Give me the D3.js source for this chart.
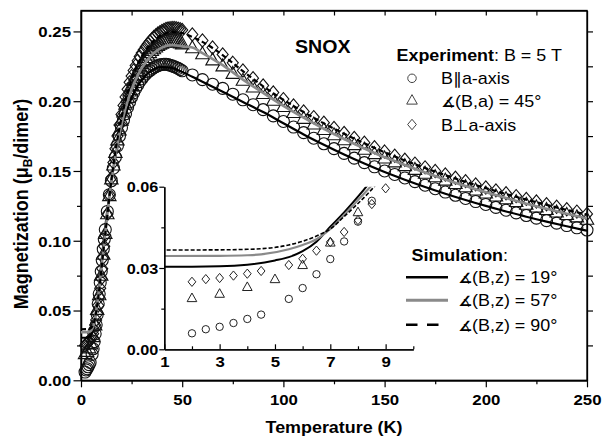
<!DOCTYPE html>
<html>
<head>
<meta charset="utf-8">
<script src="https://cdn.jsdelivr.net/npm/d3@7"></script>
<style>
  body { margin: 0; background: #fff; }
  svg { display: block; font-family: "Liberation Sans", Arial, "DejaVu Sans", sans-serif; }
</style>
</head>
<body>
<svg id="chart" width="602" height="437"></svg>
<script>
// ---- data: [T (K), M (muB/dimer)] ----
var paraA = [ // B || a-axis (circles)
  [2,0.0059],[2.5,0.0074],[3,0.0083],[3.5,0.0097],[4,0.0112],[4.5,0.0128],[5.5,0.0186],[6,0.0226],
  [6.5,0.0277],[7,0.0333],[7.5,0.0398],[8,0.0471],[8.5,0.0548],[9,0.062],[9.5,0.070],[10,0.078],
  [10.5,0.086],[11,0.094],[11.5,0.101],[12,0.108],[13,0.121],[14,0.133],[15,0.143],[16,0.152],
  [17,0.160],[18,0.168],[19,0.175],[20,0.181],[21,0.1865],[22,0.191],[23,0.1955],[24,0.1995],
  [25,0.203],[26,0.206],[27,0.209],[28,0.2115],[29,0.214],[30,0.216],[31,0.218],[32,0.2195],
  [33,0.221],[34,0.222],[35,0.223],[36,0.224],[37,0.2248],[38,0.2255],[39,0.226],[40,0.2263],
  [41,0.2265],[42,0.2265],[43,0.2262],[44,0.2258],[45,0.2253],[46,0.2248],[47,0.2242],[48,0.2235],
  [49,0.2227],[50,0.2218],[55,0.2188],[60,0.2155],[65,0.2122],[70,0.2092],[75,0.205],[80,0.201],
  [85,0.1975],[90,0.194],[95,0.1895],[100,0.1855],[105,0.1815],[110,0.1775],[115,0.1735],[120,0.1695],
  [125,0.166],[130,0.1626],[135,0.1592],[140,0.156],[145,0.153],[150,0.15],[155,0.1475],[160,0.145],
  [165,0.1424],[170,0.1398],[175,0.1373],[180,0.1349],[185,0.1326],[190,0.1303],[195,0.1281],[200,0.126],
  [205,0.1239],[210,0.1219],[215,0.12],[220,0.1181],[225,0.1162],[230,0.1144],[235,0.1126],[240,0.1109],
  [245,0.1093],[250,0.1077]
];
var tilt45 = [ // angle(B,a) = 45 deg (triangles)
  [2,0.0188],[3,0.0204],[4,0.0229],[5,0.0258],[6,0.031],[7,0.0393],[8,0.0505],[9,0.061],[10,0.075],
  [11,0.090],[12,0.105],[13,0.119],[14,0.132],[15,0.144],[16,0.154],[17,0.163],[18,0.172],[19,0.179],
  [20,0.186],[21,0.192],[22,0.1975],[23,0.2025],[24,0.207],[25,0.211],[26,0.2148],[27,0.2183],
  [28,0.2215],[29,0.2243],[30,0.2268],[31,0.229],[32,0.231],[33,0.2328],[34,0.2345],[35,0.236],
  [36,0.2373],[37,0.2385],[38,0.2396],[39,0.2405],[40,0.2413],[41,0.2419],[42,0.2424],[43,0.2427],
  [44,0.2428],[45,0.2428],[46,0.2426],[47,0.2423],[48,0.2419],[49,0.2414],[50,0.2408],[55,0.238],
  [60,0.2337],[65,0.2293],[70,0.225],[75,0.2196],[80,0.2147],[85,0.2099],[90,0.2052],[95,0.2004],
  [100,0.1959],[105,0.1916],[110,0.1874],[115,0.1833],[120,0.1794],[125,0.1756],[130,0.1721],[135,0.1686],
  [140,0.1653],[145,0.1621],[150,0.159],[155,0.1562],[160,0.1535],[165,0.1508],[170,0.1481],[175,0.1456],
  [180,0.1431],[185,0.1407],[190,0.1384],[195,0.1361],[200,0.1339],[205,0.1318],[210,0.1298],[215,0.1278],
  [220,0.1258],[225,0.1239],[230,0.1221],[235,0.1203],[240,0.1185],[245,0.1168],[250,0.1151]
];
var perpA = [ // B perp a-axis (diamonds)
  [2,0.0249],[2.5,0.0259],[3,0.0263],[3.5,0.0272],[4,0.0279],[4.5,0.0289],[5.5,0.0311],[6,0.0334],
  [6.5,0.0364],[7,0.0396],[7.5,0.0433],[8,0.0477],[8.5,0.0536],[9,0.0594],[9.5,0.066],[10,0.073],
  [10.5,0.080],[11,0.088],[11.5,0.096],[12,0.104],[13,0.119],[14,0.133],[15,0.145],[16,0.156],
  [17,0.166],[18,0.175],[19,0.183],[20,0.1905],[21,0.197],[22,0.203],[23,0.2085],[24,0.2135],
  [25,0.218],[26,0.222],[27,0.2255],[28,0.229],[29,0.232],[30,0.2345],[31,0.2368],[32,0.239],
  [33,0.241],[34,0.2428],[35,0.2445],[36,0.246],[37,0.2473],[38,0.2485],[39,0.2495],[40,0.2504],
  [41,0.2511],[42,0.2517],[43,0.2521],[44,0.2524],[45,0.2525],[46,0.2525],[47,0.2523],[48,0.252],
  [49,0.2516],[50,0.2511],[55,0.2478],[60,0.2435],[65,0.2385],[70,0.2335],[75,0.2275],[80,0.222],
  [85,0.2165],[90,0.2112],[95,0.2062],[100,0.2015],[105,0.197],[110,0.1927],[115,0.1886],[120,0.1846],
  [125,0.1808],[130,0.1772],[135,0.1737],[140,0.1703],[145,0.167],[150,0.1639],[155,0.1609],[160,0.158],
  [165,0.1553],[170,0.1526],[175,0.15],[180,0.1475],[185,0.1451],[190,0.1427],[195,0.1404],[200,0.1382],
  [205,0.1361],[210,0.134],[215,0.132],[220,0.13],[225,0.1281],[230,0.1262],[235,0.1244],[240,0.1226],
  [245,0.1209],[250,0.1192]
];
var sim19 = [
  [0,0.0305],[2,0.0305],[3,0.0306],[4,0.0312],[5,0.0328],[5.5,0.034],[6,0.0362],[6.5,0.0397],[7,0.0452],
  [7.5,0.0505],[8,0.0563],[8.5,0.0625],[9,0.069],[10,0.083],[11,0.097],[12,0.11],[13,0.122],[14,0.133],
  [15,0.143],[16,0.152],[17,0.16],[18,0.167],[20,0.18],[22,0.1905],[25,0.2025],[28,0.211],[31,0.217],
  [35,0.2223],[40,0.2245],[45,0.2238],[50,0.221],[55,0.2175],[60,0.214],[70,0.2068],[80,0.1995],
  [90,0.1922],[100,0.1842],[110,0.1762],[120,0.1688],[130,0.1618],[140,0.1553],[150,0.1492],[160,0.1437],
  [170,0.1385],[180,0.1337],[190,0.1292],[200,0.125],[210,0.121],[220,0.1172],[230,0.1137],[240,0.1104],
  [250,0.1072]
];
var sim57 = [
  [0,0.0344],[3,0.0345],[4,0.0347],[4.5,0.035],[5.5,0.0369],[6,0.0385],[6.5,0.0406],[7,0.0444],
  [7.5,0.0496],[8,0.0551],[8.5,0.0605],[9,0.0665],[10,0.079],[11,0.093],[12,0.106],[13,0.119],[14,0.131],
  [15,0.142],[16,0.152],[17,0.161],[18,0.169],[20,0.183],[22,0.195],[25,0.2085],[28,0.2185],[31,0.226],
  [35,0.2332],[40,0.2385],[45,0.2402],[50,0.2393],[55,0.2385],[60,0.2345],[70,0.2258],[80,0.2155],
  [90,0.206],[100,0.1967],[110,0.1882],[120,0.1802],[130,0.1729],[140,0.1661],[150,0.1598],[160,0.1543],
  [170,0.1489],[180,0.1439],[190,0.1392],[200,0.1347],[210,0.1306],[220,0.1266],[230,0.1229],[240,0.1193],
  [250,0.1159]
];
var sim90 = [
  [0,0.0366],[3,0.0367],[4,0.0369],[4.5,0.0371],[5.5,0.0385],[6.5,0.0418],[7,0.0444],[7.5,0.049],
  [8,0.0538],[8.5,0.059],[9,0.065],[10,0.078],[11,0.092],[12,0.105],[13,0.118],[14,0.131],[15,0.143],
  [16,0.154],[17,0.164],[18,0.173],[20,0.188],[22,0.2005],[25,0.2155],[28,0.2265],[31,0.2345],[35,0.242],
  [40,0.2475],[45,0.2495],[50,0.2488],[55,0.246],[60,0.2425],[70,0.233],[80,0.2215],[90,0.2107],
  [100,0.201],[110,0.1922],[120,0.1841],[130,0.1767],[140,0.1698],[150,0.1634],[160,0.1575],[170,0.1521],
  [180,0.147],[190,0.1422],[200,0.1377],[210,0.1335],[220,0.1295],[230,0.1257],[240,0.1221],[250,0.1187]
];
var xTicks = [0, 50, 100, 150, 200, 250];
var yTicks = [0, 0.05, 0.10, 0.15, 0.20, 0.25];
var insetXTicks = [1, 3, 5, 7, 9];
var insetYTicks = [0, 0.03, 0.06];
// [angle sign or '', rest of label]
var expLabels = [['', 'B\u2225a-axis'], ['\u2221', '(B,a) = 45\u00b0'], ['', 'B\u22a5a-axis']];
var simLabels = [['\u2221', '(B,z) = 19\u00b0'], ['\u2221', '(B,z) = 57\u00b0'], ['\u2221', '(B,z) = 90\u00b0']];

var SX = 1.12;   // the figure text is a bit wide, stretch glyphs horizontally
var GREY = '#8a8a8a';
var svg = d3.select('#chart');

var x = d3.scaleLinear().domain([0, 250]).range([81, 587]);
var y = d3.scaleLinear().domain([0, 0.265]).range([380.3, 10.5]);
var xi = d3.scaleLinear().domain([1, 10]).range([164.3, 413.3]);
var yi = d3.scaleLinear().domain([0, 0.06]).range([349.3, 186.7]);

function styleAxis(g, size){
  g.attr('font-family', null).attr('font-size', size).attr('font-weight', 'bold')
    .attr('color', '#000');
  g.selectAll('.tick line').attr('stroke-width', 1.2);
  g.select('.domain').attr('stroke-width', 1.3);
}
function moveLabels(g, dx, dy, anchor){
  g.selectAll('.tick text').attr('x', null).attr('y', null).attr('dy', null)
    .attr('text-anchor', anchor)
    .attr('transform', 'translate(' + dx + ',' + dy + ') scale(' + SX + ',1)');
}
function minors(lo, hi, step){
  var out = [];
  for (var v = lo; v <= hi + 1e-9; v += step) out.push(Math.round(v * 1e4) / 1e4);
  return out;
}

// ---- main axes ----
var bottom = svg.append('g').attr('transform', 'translate(0,' + y(0) + ')')
  .call(d3.axisBottom(x).tickValues(xTicks).tickSize(7).tickSizeOuter(0).tickFormat(d3.format('d')));
styleAxis(bottom, 15); moveLabels(bottom, 0, 25, 'middle');
svg.append('g').attr('transform', 'translate(0,' + y(0) + ')')
  .call(d3.axisBottom(x).tickValues(minors(25, 225, 50)).tickSize(4).tickSizeOuter(0).tickFormat(''))
  .call(styleAxis, 15);

var left = svg.append('g').attr('transform', 'translate(' + x(0) + ',0)')
  .call(d3.axisLeft(y).tickValues(yTicks).tickSize(7.5).tickSizeOuter(0).tickFormat(d3.format('.2f')));
styleAxis(left, 15); moveLabels(left, -10, 5.4, 'end');
svg.append('g').attr('transform', 'translate(' + x(0) + ',0)')
  .call(d3.axisLeft(y).tickValues(minors(0.025, 0.225, 0.05)).tickSize(4).tickSizeOuter(0).tickFormat(''))
  .call(styleAxis, 15);

svg.append('g').attr('transform', 'translate(0,' + y.range()[1] + ')')
  .call(d3.axisBottom(x).tickValues(minors(25, 225, 25)).tickSize(5).tickSizeOuter(0).tickFormat(''))
  .call(styleAxis, 15);
svg.append('g').attr('transform', 'translate(' + x(250) + ',0)')
  .call(d3.axisLeft(y).tickValues(minors(0.025, 0.25, 0.025)).tickSize(-6).tickSizeOuter(0).tickFormat(''))
  .call(styleAxis, 15);
svg.append('rect').attr('x', x(0)).attr('y', y.range()[1])
  .attr('width', x(250) - x(0)).attr('height', y(0) - y.range()[1])
  .attr('fill', 'none').attr('stroke', '#000').attr('stroke-width', 1.3);

// ---- markers ----
function markerPath(type, s){
  if (type === 'tri') return 'M0,' + (-0.62 * s) + 'L' + (0.56 * s) + ',' + (0.38 * s) + 'L' + (-0.56 * s) + ',' + (0.38 * s) + 'Z';
  if (type === 'dia') return 'M0,' + (-0.55 * s) + 'L' + (0.46 * s) + ',0L0,' + (0.55 * s) + 'L' + (-0.46 * s) + ',0Z';
  var r = 0.5 * s;
  return 'M' + r + ',0A' + r + ',' + r + ' 0 1,1 ' + (-r) + ',0A' + r + ',' + r + ' 0 1,1 ' + r + ',0Z';
}
function drawMarkers(g, data, type, sx, sy, s, stroke, sw){
  g.append('g').selectAll('path').data(data).enter().append('path')
    .attr('d', markerPath(type, s))
    .attr('transform', function(d){ return 'translate(' + sx(d[0]) + ',' + sy(d[1]) + ')'; })
    .attr('fill', 'none').attr('stroke', stroke).attr('stroke-width', sw);
}
function drawLine(g, data, sx, sy, color, width, dash){
  var line = d3.line().x(function(d){ return sx(d[0]); }).y(function(d){ return sy(d[1]); })
    .curve(d3.curveMonotoneX);
  g.append('path').datum(data).attr('d', line)
    .attr('fill', 'none').attr('stroke', color).attr('stroke-width', width)
    .attr('stroke-dasharray', dash || null);
}

var main = svg.append('g');
drawMarkers(main, paraA, 'circ', x, y, 12, '#111', 1.1);
drawMarkers(main, tilt45, 'tri', x, y, 12, '#111', 1.1);
drawMarkers(main, perpA, 'dia', x, y, 12, '#111', 1.1);
drawLine(main, sim19, x, y, '#000', 2.2);
drawLine(main, sim57, x, y, GREY, 2.6);
drawLine(main, sim90, x, y, '#000', 2.2, '5,3');

// ---- inset ----
var ins = svg.append('g');
svg.append('clipPath').attr('id', 'insetClip').append('rect')
  .attr('x', xi(1)).attr('y', yi(0.06)).attr('width', xi(10) - xi(1)).attr('height', yi(0) - yi(0.06));
var insLines = ins.append('g').attr('clip-path', 'url(#insetClip)');
drawLine(insLines, sim19, xi, yi, '#000', 2);
drawLine(insLines, sim57, xi, yi, GREY, 2.2);
drawLine(insLines, sim90, xi, yi, '#000', 1.6, '4,2');
function inInset(d){ return d[0] <= 10 && d[1] <= 0.06; }
drawMarkers(ins, paraA.filter(inInset), 'circ', xi, yi, 7.4, '#222', 1);
drawMarkers(ins, tilt45.filter(inInset), 'tri', xi, yi, 8.6, '#222', 1);
drawMarkers(ins, perpA.filter(inInset), 'dia', xi, yi, 8.4, '#222', 1);

var ib = ins.append('g').attr('transform', 'translate(0,' + yi(0) + ')')
  .call(d3.axisBottom(xi).tickValues(insetXTicks).tickSize(-5).tickSizeOuter(0).tickFormat(d3.format('d')));
styleAxis(ib, 15); moveLabels(ib, 0, 18, 'middle');
ins.append('g').attr('transform', 'translate(0,' + yi(0) + ')')
  .call(d3.axisBottom(xi).tickValues([2, 4, 6, 8, 10]).tickSize(-3).tickSizeOuter(0).tickFormat(''))
  .call(styleAxis, 15);
var il = ins.append('g').attr('transform', 'translate(' + xi(1) + ',0)')
  .call(d3.axisLeft(yi).tickValues(insetYTicks).tickSize(5).tickSizeOuter(0).tickFormat(d3.format('.2f')));
styleAxis(il, 14.5); moveLabels(il, -6, 5.2, 'end');
ins.append('g').attr('transform', 'translate(' + xi(1) + ',0)')
  .call(d3.axisLeft(yi).tickValues([0.015, 0.045]).tickSize(3).tickSizeOuter(0).tickFormat(''))
  .call(styleAxis, 15);

// ---- titles ----
function txt(g, px, py, size, anchor){
  return g.append('text').attr('transform', 'translate(' + px + ',' + py + ') scale(' + SX + ',1)')
    .attr('font-size', size).attr('text-anchor', anchor || 'start').attr('fill', '#000');
}
function angleText(t, parts){
  if (parts[0]) t.append('tspan').attr('font-weight', 'bold').attr('font-size', 14).text(parts[0]);
  t.append('tspan').text(parts[1]);
}
txt(svg, (x(0) + x(250)) / 2, 433, 16, 'middle').attr('font-weight', 'bold').text('Temperature (K)');
var yl = svg.append('text').attr('transform', 'translate(28,204) scale(' + SX + ',1) rotate(-90)')
  .attr('font-size', 18).attr('font-weight', 'bold').attr('text-anchor', 'middle');
yl.append('tspan').text('Magnetization (\u03bc');
yl.append('tspan').attr('font-size', 12).attr('dy', 4).text('B');
yl.append('tspan').attr('dy', -4).text('/dimer)');

txt(svg, 295, 52.5, 17.5).attr('font-weight', 'bold').text('SNOX');

// ---- experiment legend ----
var e = txt(svg, 396.5, 60.5, 16);
e.append('tspan').attr('font-weight', 'bold').text('Experiment');
e.append('tspan').text(': B = 5 T');
var expTypes = ['circ', 'tri', 'dia'];
var expY = [78.3, 100.5, 124.5];
expTypes.forEach(function(t, i){
  svg.append('path').attr('d', markerPath(t, t === 'circ' ? 8.5 : 9.5))
    .attr('transform', 'translate(412,' + expY[i] + ')')
    .attr('fill', 'none').attr('stroke', '#444').attr('stroke-width', 1);
  angleText(txt(svg, 441, expY[i] + 6, 16), expLabels[i]);
});

// ---- simulation legend ----
var s = txt(svg, 411.5, 260.5, 16);
s.append('tspan').attr('font-weight', 'bold').text('Simulation');
s.append('tspan').text(':');
var simY = [277.3, 300.3, 324.7];
var simStyle = [['#000', 2.6, null], [GREY, 3, null], ['#000', 2.6, '11.5,9.5']];
simLabels.forEach(function(lbl, i){
  svg.append('line').attr('x1', 406).attr('x2', 448).attr('y1', simY[i]).attr('y2', simY[i])
    .attr('stroke', simStyle[i][0]).attr('stroke-width', simStyle[i][1])
    .attr('stroke-dasharray', simStyle[i][2]);
  angleText(txt(svg, 458, simY[i] + 6, 16), lbl);
});
</script>
</body>
</html>
